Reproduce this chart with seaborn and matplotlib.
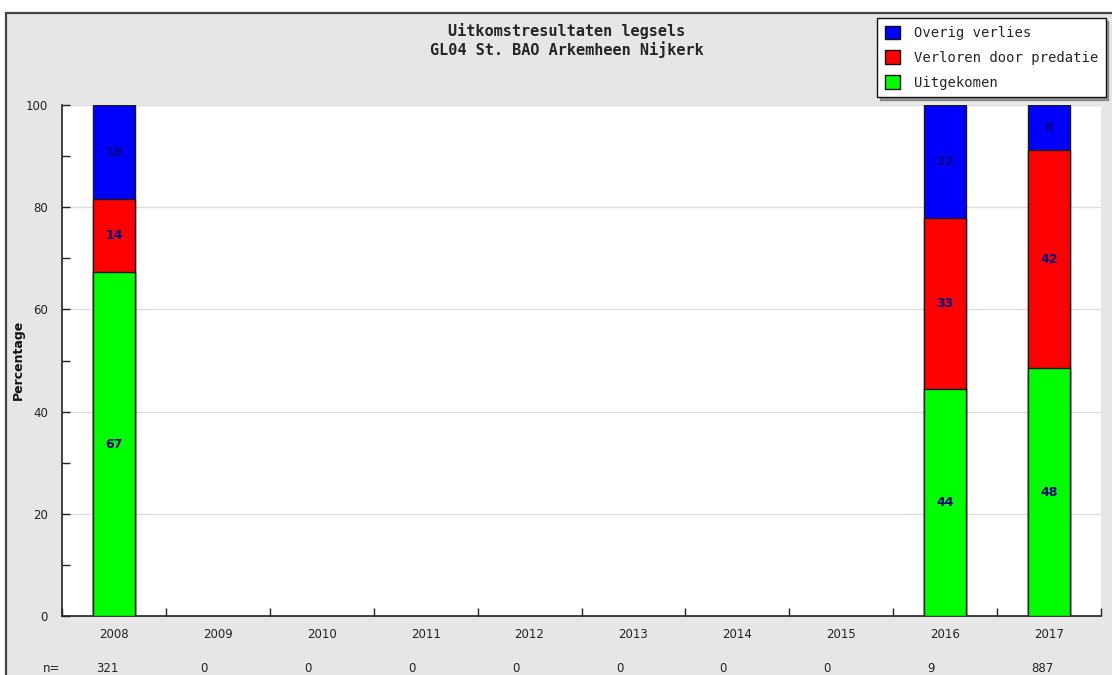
import numpy as np
import pandas as pd
import matplotlib
matplotlib.use('Agg')
import matplotlib.pyplot as plt
from matplotlib.patches import Patch, Rectangle
import seaborn as sns

# data (percentages)
years = ['2008', '2009', '2010', '2011', '2012', '2013', '2014', '2015', '2016', '2017']
n_counts = [321, 0, 0, 0, 0, 0, 0, 0, 9, 887]
data_years = ['2008', '2016', '2017']
uitgekomen = [67.3, 44.5, 48.5]
predatie = [14.3, 33.3, 42.6]
overig = [18.4, 22.2, 8.9]

series_names = ['Overig verlies', 'Verloren door predatie', 'Uitgekomen']
colors = {'Overig verlies': '#0000ff', 'Verloren door predatie': '#ff0000', 'Uitgekomen': '#00ff00'}

df = pd.DataFrame({'year': data_years, 'Uitgekomen': uitgekomen,
                   'Verloren door predatie': predatie, 'Overig verlies': overig})
df['c_green'] = df['Uitgekomen']
df['c_red'] = df['c_green'] + df['Verloren door predatie']
df['c_blue'] = df['c_red'] + df['Overig verlies']

sns.set_style('white')
plt.rcParams['font.family'] = ['DejaVu Sans']

fig = plt.figure(figsize=(11.12, 6.75), dpi=100)
fig.patch.set_facecolor('white')
# grey frame behind everything
fig.patches.append(Rectangle((6 / 1112, -0.05), 1.1, 0.05 + 1 - 13 / 675, transform=fig.transFigure,
                             facecolor='#e6e6e6', edgecolor='#444444', linewidth=1.6, zorder=-10))

ax = fig.add_axes([62 / 1112, 59 / 675, (1101 - 62) / 1112, 511 / 675])
ax.set_facecolor('white')

bar_kw = dict(order=years, width=0.4, saturation=1, edgecolor='#1a1a1a', linewidth=1, ax=ax, zorder=3)
sns.barplot(data=df, x='year', y='c_blue', color=colors['Overig verlies'], **bar_kw)
sns.barplot(data=df, x='year', y='c_red', color=colors['Verloren door predatie'], **bar_kw)
sns.barplot(data=df, x='year', y='c_green', color=colors['Uitgekomen'], **bar_kw)

# value labels in the middle of each segment
for _, row in df.iterrows():
    xi = years.index(row['year'])
    segs = [(0, row['c_green'], row['Uitgekomen']),
            (row['c_green'], row['c_red'], row['Verloren door predatie']),
            (row['c_red'], row['c_blue'], row['Overig verlies'])]
    for lo, hi, v in segs:
        ax.text(xi, (lo + hi) / 2, str(int(v)), ha='center', va='center', color='#000080',
                fontsize=9, fontweight='bold', zorder=5)

ax.set_xlim(-0.5, len(years) - 0.5)
ax.set_ylim(0, 100)
ax.set_xlabel('')
ax.set_ylabel('')

ax.set_xticks(range(len(years)))
ax.set_xticklabels(years)
ax.set_xticks(np.arange(-0.5, len(years), 1), minor=True)
ax.tick_params(axis='x', which='both', bottom=True)
ax.tick_params(axis='x', which='major', length=0, pad=9, labelsize=8.5, labelcolor='#222222')
ax.tick_params(axis='x', which='minor', direction='in', length=6, width=1, color='#222222')

ax.set_yticks([0, 20, 40, 60, 80, 100])
ax.set_yticks([10, 30, 50, 70, 90], minor=True)
ax.tick_params(axis='y', which='both', left=True, direction='in', length=6, width=1, color='#222222',
               pad=10, labelsize=8.5, labelcolor='#222222')
ax.yaxis.grid(True, which='major', color='#dddddd', linewidth=1, zorder=0)
ax.set_axisbelow(True)

for side in ['top', 'right']:
    ax.spines[side].set_visible(False)
for side in ['left', 'bottom']:
    ax.spines[side].set_color('#222222')
    ax.spines[side].set_linewidth(1.2)

# n= row
n_y = 7 / 675
fig.text(60 / 1112, n_y, 'n=', ha='right', va='center', fontsize=8.5, color='#222222')
for i, n in enumerate(n_counts):
    xf = fig.transFigure.inverted().transform(ax.transData.transform((i - 0.17, 0)))[0]
    fig.text(xf, n_y, str(n), ha='left', va='center', fontsize=8.5, color='#222222')

fig.text(18 / 1112, 1 - 360 / 675, 'Percentage', rotation=90, ha='center', va='center',
         fontsize=9, fontweight='bold', color='#111111')

fig.text(567 / 1112, 1 - 31 / 675, 'Uitkomstresultaten legsels', ha='center', va='center',
         family='DejaVu Sans Mono', fontweight='bold', fontsize=11)
fig.text(567 / 1112, 1 - 50 / 675, 'GL04 St. BAO Arkemheen Nijkerk', ha='center', va='center',
         family='DejaVu Sans Mono', fontweight='bold', fontsize=11)

handles = [Patch(facecolor=colors[s], edgecolor='#111111', linewidth=1) for s in series_names]
leg = fig.legend(handles, series_names, loc='upper left', bbox_to_anchor=(877 / 1112, 1 - 18 / 675),
                 bbox_transform=fig.transFigure, frameon=True, fancybox=False, shadow=True,
                 prop={'family': 'DejaVu Sans Mono', 'size': 10}, borderaxespad=0,
                 handlelength=1.1, handleheight=1.1, handletextpad=1.0, labelspacing=0.75,
                 borderpad=0.55)
leg.get_frame().set_edgecolor('#111111')
leg.get_frame().set_linewidth(1)
leg.get_frame().set_facecolor('white')
leg.get_frame().set_alpha(1)

fig.savefig('out.png', dpi=100, facecolor='white')
